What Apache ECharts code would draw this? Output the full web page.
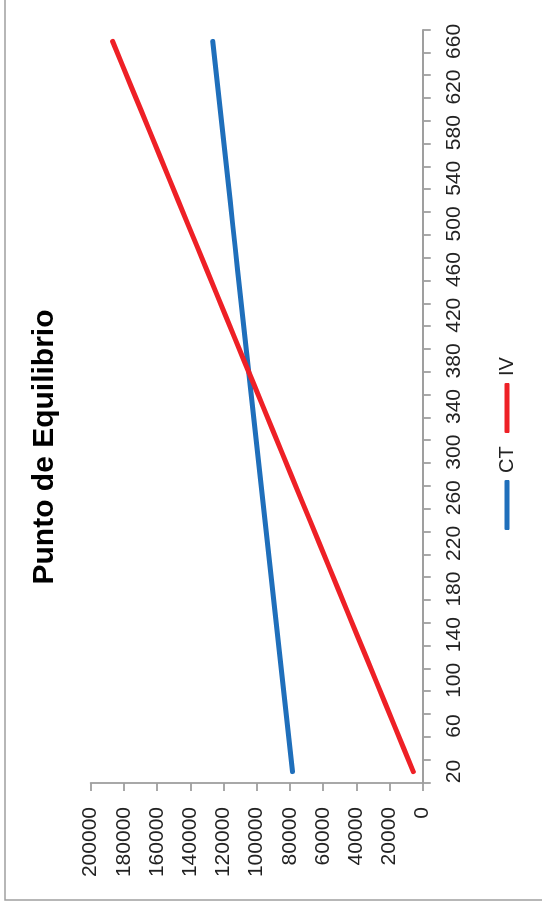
<!DOCTYPE html>
<html>
<head>
<meta charset="utf-8">
<title>Punto de Equilibrio</title>
<script src="https://cdn.jsdelivr.net/npm/echarts@6/dist/echarts.min.js"></script>
<style>
  html, body { margin: 0; padding: 0; width: 542px; height: 907px; overflow: hidden; background: #ffffff; }
  /* The chart is laid out landscape (907 x 542) and turned a quarter turn counter-clockwise */
  #chart {
    position: absolute; left: 0; top: 0;
    width: 907px; height: 542px;
    transform-origin: 0 0;
    transform: translate(0px, 907px) rotate(-90deg);
  }
</style>
</head>
<body>
<div id="chart"></div>
<script>
// Unidades producidas
const cantidades = ['20','40','60','80','100','120','140','160','180','200','220','240','260','280','300',
  '320','340','360','380','400','420','440','460','480','500','520','540','560','580','600','620','640','660'];

// Costo total (CT)
const costoTotal = [78500, 80000, 81500, 83000, 84500, 86000, 87500, 89000, 90500, 92000, 93500,
  95000, 96500, 98000, 99500, 101000, 102500, 104000, 105500, 107000, 108500, 110000, 111500,
  113000, 114500, 116000, 117500, 119000, 120500, 122000, 123500, 125000, 126500];

// Ingreso por ventas (IV)
const ingresoVentas = [5660, 11320, 16980, 22640, 28300, 33960, 39620, 45280, 50940, 56600, 62260,
  67920, 73580, 79240, 84900, 90560, 96220, 101880, 107540, 113200, 118860, 124520, 130180,
  135840, 141500, 147160, 152820, 158480, 164140, 169800, 175460, 181120, 186780];

// Escala del eje de valores
const valorMin = 0;
const valorMax = 200000;
const valorPaso = 20000;

const gris = '#9f9f9f';
const texto = '#222222';
const fuenteEstrecha = 'Liberation Sans Narrow, Liberation Sans, Arial, sans-serif';

function leyenda(nombre, izquierda) {
  return {
    data: [nombre],
    left: izquierda,
    top: 497,
    padding: 0,
    orient: 'horizontal',
    icon: 'roundRect',
    itemWidth: 50,
    itemHeight: 5,
    textStyle: { fontFamily: fuenteEstrecha, fontSize: 20, color: texto, padding: [0, 0, 0, 2] }
  };
}

const chart = echarts.init(document.getElementById('chart'), null, { renderer: 'canvas', devicePixelRatio: 1 });

chart.setOption({
  animation: false,
  backgroundColor: '#ffffff',
  graphic: [{
    type: 'rect',
    shape: { x: 7, y: 5, width: 1200, height: 800 },
    style: { fill: 'none', stroke: '#a0a0a0', lineWidth: 1.5 },
    silent: true
  }],
  title: {
    text: 'Punto de Equilibrio',
    left: 455,
    textAlign: 'center',
    top: 25,
    textStyle: { fontFamily: 'Liberation Sans, Arial, sans-serif', fontWeight: 'bold', fontSize: 30, color: '#000000' }
  },
  legend: [leyenda('CT', 377), leyenda('IV', 474)],
  grid: { left: 124, right: 30, top: 90.7, bottom: 119.3, containLabel: false },
  xAxis: {
    type: 'category',
    data: cantidades,
    boundaryGap: true,
    axisLine: { show: true, lineStyle: { color: gris, width: 1.8 } },
    axisTick: { show: true, interval: 0, length: 8, lineStyle: { color: gris, width: 1.8 } },
    axisLabel: {
      interval: 1,
      margin: 21,
      fontFamily: fuenteEstrecha,
      fontSize: 21,
      color: texto
    },
    splitLine: { show: false }
  },
  yAxis: {
    type: 'value',
    min: valorMin,
    max: valorMax,
    interval: valorPaso,
    axisLine: { show: true, lineStyle: { color: gris, width: 1.8 } },
    axisTick: { show: true, length: 8, lineStyle: { color: gris, width: 1.8 } },
    axisLabel: {
      margin: 24,
      formatter: function (v) { return String(v); },
      fontFamily: 'Liberation Sans, Arial, sans-serif',
      fontSize: 21,
      color: texto
    },
    splitLine: { show: false }
  },
  series: [
    {
      name: 'CT',
      type: 'line',
      data: costoTotal,
      showSymbol: false,
      color: '#1f6fbb',
      lineStyle: { width: 5, color: '#1f6fbb', cap: 'round', join: 'round' }
    },
    {
      name: 'IV',
      type: 'line',
      data: ingresoVentas,
      showSymbol: false,
      color: '#ee2026',
      lineStyle: { width: 5, color: '#ee2026', cap: 'round', join: 'round' }
    }
  ]
});
</script>
</body>
</html>
